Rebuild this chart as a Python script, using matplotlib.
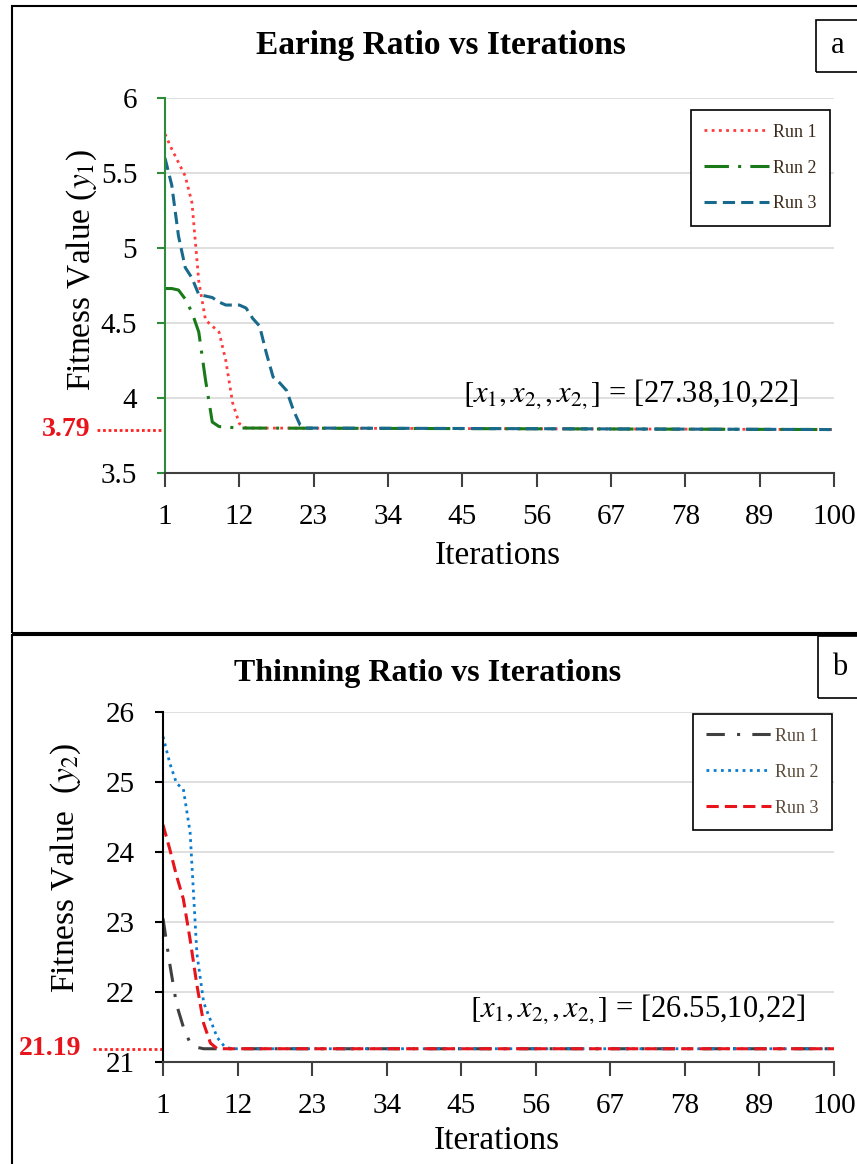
import numpy as np
import matplotlib
matplotlib.use("Agg")
import matplotlib.pyplot as plt
from matplotlib.patches import Rectangle

plt.rcParams['font.family'] = ['Liberation Serif', 'DejaVu Serif']
plt.rcParams['mathtext.fontset'] = 'stix'

# Panel a: earing ratio
a_run1_it = [1, 2, 3, 4, 5, 6, 7, 8, 9, 10, 11, 12, 13, 100]
a_run1 = [5.76, 5.66, 5.57, 5.48, 5.30, 4.78, 4.52, 4.48, 4.44, 4.25, 3.97, 3.83, 3.80, 3.79]
a_run2_it = [1, 2, 3, 4, 5, 6, 7, 8, 9, 12, 100]
a_run2 = [4.73, 4.73, 4.72, 4.66, 4.57, 4.44, 4.12, 3.84, 3.81, 3.80, 3.79]
a_run3_it = [1, 2, 3, 4, 5, 6, 7, 8, 9, 10, 11, 12, 13, 14, 15, 16, 17, 18, 19, 20, 21, 22, 100]
a_run3 = [5.60, 5.42, 5.08, 4.87, 4.80, 4.69, 4.68, 4.67, 4.64, 4.62, 4.62, 4.62, 4.60,
          4.53, 4.48, 4.30, 4.14, 4.10, 4.05, 3.92, 3.82, 3.80, 3.79]
a_best = 3.79
a_text = r"$[x_1,x_{2,},x_{2,}]$ = [27.38,10,22]"

# Panel b: thinning ratio
b_run1_it = [1, 2, 3, 4, 5, 6, 7, 100]
b_run1 = [23.05, 22.40, 21.82, 21.50, 21.27, 21.21, 21.19, 21.19]
b_run2_it = [1, 2, 3, 4, 5, 6, 7, 8, 9, 10, 11, 100]
b_run2 = [25.65, 25.27, 24.98, 24.90, 24.28, 22.55, 21.85, 21.60, 21.35, 21.23, 21.19, 21.19]
b_run3_it = [1, 2, 3, 4, 5, 6, 7, 8, 9, 100]
b_run3 = [24.39, 24.04, 23.66, 23.33, 22.75, 22.10, 21.55, 21.27, 21.19, 21.19]
b_best = 21.19
b_text = r"$[x_1,x_{2,},x_{2,}]$ = [26.55,10,22]"

xticks = [1, 12, 23, 34, 45, 56, 67, 78, 89, 100]

fig = plt.figure(figsize=(8.57, 11.64), dpi=100)

# panel frames
fig.add_artist(Rectangle((0.014, 0.4562), 1.0, 0.5386, transform=fig.transFigure,
                         fill=False, lw=1.5, ec='black'))
fig.add_artist(Rectangle((0.014, -0.01), 1.0, 0.4645, transform=fig.transFigure,
                         fill=False, lw=1.5, ec='black'))
fig.add_artist(Rectangle((0.9522, 0.9381), 0.1, 0.0447, transform=fig.transFigure,
                         fill=False, lw=1.2, ec='black'))
fig.add_artist(Rectangle((0.9545, 0.4003), 0.1, 0.0533, transform=fig.transFigure,
                         fill=False, lw=1.2, ec='black'))
fig.text(0.978, 0.9605, "a", fontsize=22, ha='center', va='center')
fig.text(0.980, 0.4265, "b", fontsize=22, ha='center', va='center')

fig.text(0.5146, 0.9605, "Earing Ratio vs Iterations", fontsize=24, fontweight='bold',
         ha='center', va='center')
fig.text(0.4994, 0.4218, "Thinning Ratio vs Iterations", fontsize=23, fontweight='bold',
         ha='center', va='center')


def style_axis(ax, spine_color, ylim, yticks, ylabel, ylab_x, ylab_y):
    ax.set_xlim(1, 100)
    ax.set_ylim(*ylim)
    ax.set_xticks(xticks)
    ax.set_yticks(yticks)
    ax.grid(axis='y', color='#d9d9d9', lw=1.2)
    ax.set_axisbelow(True)
    for s in ['top', 'right']:
        ax.spines[s].set_visible(False)
    ax.spines['left'].set_color(spine_color)
    ax.spines['left'].set_linewidth(1.5)
    ax.spines['bottom'].set_color('#404040')
    ax.spines['bottom'].set_linewidth(1.5)
    ax.tick_params(axis='y', colors=spine_color, labelcolor='black', length=6, width=1.5,
                   pad=14, labelsize=21)
    ax.tick_params(axis='x', colors='#404040', labelcolor='black', length=10, width=1.5,
                   pad=12, labelsize=21)
    ax.set_xlabel("Iterations", fontsize=24)
    ax.xaxis.set_label_coords(0.498, -0.18)
    ax.set_ylabel(ylabel, fontsize=24)
    ax.yaxis.set_label_coords(ylab_x, ylab_y)


def add_legend(ax, anchor, color):
    leg = ax.legend(loc='upper right', bbox_to_anchor=anchor, borderaxespad=0,
                    fontsize=13, handlelength=3.6, labelspacing=1.05, fancybox=False,
                    edgecolor='black', framealpha=1, handletextpad=0.2, borderpad=0.75)
    leg.get_frame().set_linewidth(1.2)
    for t in leg.get_texts():
        t.set_color(color)


def mark_best(ax, best, line_x, text_x):
    ax.plot([line_x, 0], [best, best], transform=ax.get_yaxis_transform(),
            clip_on=False, color='#ff2020', ls=(0, (1, 1)), lw=2.0)
    ax.text(text_x, best, f"{best:.2f}", transform=ax.get_yaxis_transform(),
            color='#e8141b', fontsize=20, fontweight='bold', ha='right', va='center')


# ---- panel a
ax1 = fig.add_axes([0.1925, 0.5936, 0.7806, 0.3222])
ax1.plot(a_run1_it, a_run1, color='#ff3b3b', ls=(0, (1, 1.6)), lw=2.0, label='Run 1')
ax1.plot(a_run2_it, a_run2, color='#1a7a1a', ls=(0, (8, 3, 1, 3)), lw=2.2, label='Run 2')
ax1.plot(a_run3_it, a_run3, color='#186a8c', ls=(0, (4, 2)), lw=2.2, label='Run 3')
style_axis(ax1, '#2e8b3a', (3.5, 6), [3.5, 4, 4.5, 5, 5.5, 6], r"Fitness Value ($y_1$)",
           -0.099, 0.54)
ax1.set_yticklabels(['3.5', '4', '4.5', '5', '5.5', '6'])
add_legend(ax1, (0.994, 0.968), '#3a2a1a')
mark_best(ax1, a_best, -0.102, -0.112)
ax1.text(0.445, 0.21, a_text, transform=ax1.transAxes, fontsize=22, ha='left', va='center')

# ---- panel b
ax2 = fig.add_axes([0.1902, 0.0876, 0.7830, 0.3007])
ax2.plot(b_run1_it, b_run1, color='#404040', ls=(0, (6, 4, 1, 4)), lw=2.2, label='Run 1')
ax2.plot(b_run2_it, b_run2, color='#0a7cd0', ls=(0, (1, 1.6)), lw=2.0, label='Run 2')
ax2.plot(b_run3_it, b_run3, color='#e8141b', ls=(0, (4, 2)), lw=2.2, label='Run 3')
style_axis(ax2, 'black', (21, 26), [21, 22, 23, 24, 25, 26], r"Fitness Value  ($y_2$)",
           -0.119, 0.554)
add_legend(ax2, (0.997, 0.994), '#5a4a3a')
mark_best(ax2, b_best, -0.104, -0.121)
ax2.text(0.458, 0.15, b_text, transform=ax2.transAxes, fontsize=22, ha='left', va='center')

fig.savefig("out.png", dpi=100)
